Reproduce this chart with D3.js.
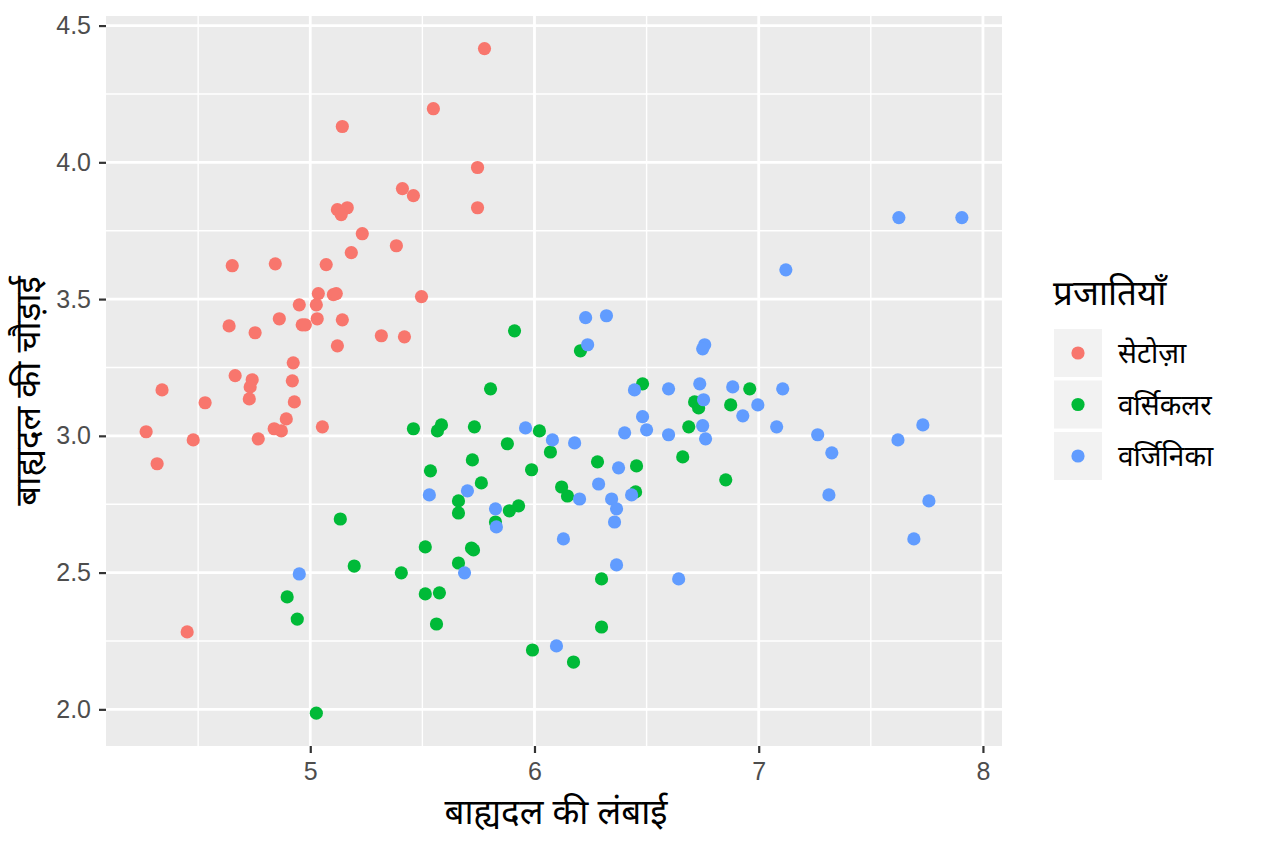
<!DOCTYPE html>
<html>
<head>
<meta charset="utf-8">
<script src="https://cdn.jsdelivr.net/npm/d3@7"></script>
<style>
  body { margin: 0; background: #fff; }
  svg { display: block; }
  text { font-family: "Noto Sans", "Noto Sans Devanagari", "Liberation Sans", sans-serif; }
  .tick-label { font-family: "Liberation Sans", Arial, sans-serif; }
</style>
</head>
<body>
<svg id="chart" width="1264" height="843"></svg>
<script>
// species labels, in legend order
const species = ["सेटोज़ा", "वर्सिकलर", "वर्जिनिका"];
const speciesColors = ["#F8766D", "#00BA38", "#619CFF"];

// jittered sepal length / width
const setosaLength = [5.777, 5.549, 5.143, 5.746, 5.746, 5.411, 5.460, 5.121, 5.165, 5.138,
  5.232, 5.384, 5.183, 4.652, 4.844, 5.071, 5.036, 5.103, 5.116, 5.496,
  4.951, 5.027, 4.862, 5.031, 5.143, 4.964, 4.978, 4.638, 4.754, 5.317,
  5.420, 5.121, 4.924, 4.665, 4.741, 4.732, 4.728, 4.920, 4.339, 4.929,
  4.531, 4.893, 4.839, 4.871, 5.054, 4.268, 4.478, 4.768, 4.317, 4.451];
const setosaWidth = [4.416, 4.196, 4.131, 3.981, 3.834, 3.904, 3.878, 3.827, 3.834, 3.809,
  3.739, 3.695, 3.670, 3.622, 3.629, 3.626, 3.520, 3.516, 3.520, 3.509,
  3.479, 3.479, 3.428, 3.428, 3.424, 3.406, 3.406, 3.402, 3.377, 3.366,
  3.362, 3.329, 3.267, 3.220, 3.205, 3.179, 3.135, 3.201, 3.168, 3.124,
  3.121, 3.062, 3.026, 3.018, 3.033, 3.015, 2.985, 2.989, 2.898, 2.283];

const versicolorLength = [5.911, 5.804, 5.460, 5.567, 5.585, 5.732, 5.879, 5.723, 5.536, 5.763,
  5.661, 5.661, 5.888, 5.929, 5.826, 5.134, 5.513, 5.719, 5.728, 5.661,
  5.196, 5.406, 4.897, 5.513, 5.576, 4.942, 5.563, 5.027, 6.205, 6.482,
  6.960, 6.714, 6.732, 6.875, 6.688, 6.022, 6.071, 6.281, 6.455, 6.661,
  5.987, 6.853, 6.121, 6.147, 6.451, 6.299, 6.299, 5.991, 6.174];
const versicolorWidth = [3.384, 3.172, 3.026, 3.018, 3.040, 3.033, 2.971, 2.912, 2.872, 2.828,
  2.762, 2.718, 2.726, 2.744, 2.685, 2.696, 2.594, 2.590, 2.583, 2.535,
  2.524, 2.499, 2.411, 2.422, 2.426, 2.330, 2.312, 1.986, 3.311, 3.190,
  3.172, 3.124, 3.102, 3.113, 3.033, 3.018, 2.941, 2.905, 2.890, 2.923,
  2.876, 2.839, 2.813, 2.780, 2.795, 2.477, 2.301, 2.217, 2.173];

const virginicaLength = [5.531, 5.701, 5.826, 5.830, 5.688, 4.951, 5.960, 6.228, 6.321, 6.237,
  6.759, 6.750, 6.446, 6.598, 6.737, 6.884, 7.107, 6.754, 6.996, 6.929,
  6.482, 6.500, 6.402, 6.598, 6.750, 6.763, 7.080, 6.080, 6.179, 6.375,
  6.286, 6.201, 6.344, 6.366, 6.433, 6.357, 6.129, 6.366, 6.643, 6.098,
  7.625, 7.906, 7.121, 7.263, 7.326, 7.621, 7.732, 7.313, 7.759, 7.692];
const virginicaWidth = [2.784, 2.799, 2.733, 2.667, 2.499, 2.495, 3.029, 3.432, 3.439, 3.333,
  3.333, 3.318, 3.168, 3.172, 3.190, 3.179, 3.172, 3.132, 3.113, 3.073,
  3.070, 3.022, 3.011, 3.004, 3.037, 2.989, 3.033, 2.985, 2.974, 2.883,
  2.824, 2.769, 2.769, 2.733, 2.784, 2.685, 2.623, 2.528, 2.477, 2.232,
  3.798, 3.798, 3.607, 3.004, 2.938, 2.985, 3.040, 2.784, 2.762, 2.623];

const xTicks = [5, 6, 7, 8];
const yTicks = [2.0, 2.5, 3.0, 3.5, 4.0, 4.5];
const xMinor = [4.5, 5.5, 6.5, 7.5];
const yMinor = [2.25, 2.75, 3.25, 3.75, 4.25];

const xTitle = "बाह्यदल की लंबाई";
const yTitle = "बाह्यदल की चौड़ाई";
const legendTitle = "प्रजातियाँ";

const lengths = [setosaLength, versicolorLength, virginicaLength];
const widths = [setosaWidth, versicolorWidth, virginicaWidth];
const points = [];
lengths.forEach((arr, s) => {
  arr.forEach((v, i) => points.push({ x: v, y: widths[s][i], s }));
});

const panel = { left: 106, top: 16, right: 1002, bottom: 746 };

const x = d3.scaleLinear().domain([4.089, 8.085]).range([panel.left, panel.right]);
const y = d3.scaleLinear().domain([1.866, 4.535]).range([panel.bottom, panel.top]);

const svg = d3.select("#chart");

svg.append("rect")
  .attr("x", panel.left)
  .attr("y", panel.top)
  .attr("width", panel.right - panel.left)
  .attr("height", panel.bottom - panel.top)
  .attr("fill", "#EBEBEB");

const grid = svg.append("g");
grid.selectAll("line.minor-x").data(xMinor).join("line")
  .attr("x1", (d) => x(d)).attr("x2", (d) => x(d))
  .attr("y1", panel.top).attr("y2", panel.bottom)
  .attr("stroke", "#fff").attr("stroke-width", 1.4);
grid.selectAll("line.minor-y").data(yMinor).join("line")
  .attr("y1", (d) => y(d)).attr("y2", (d) => y(d))
  .attr("x1", panel.left).attr("x2", panel.right)
  .attr("stroke", "#fff").attr("stroke-width", 1.4);
grid.selectAll("line.major-x").data(xTicks).join("line")
  .attr("x1", (d) => x(d)).attr("x2", (d) => x(d))
  .attr("y1", panel.top).attr("y2", panel.bottom)
  .attr("stroke", "#fff").attr("stroke-width", 2.8);
grid.selectAll("line.major-y").data(yTicks).join("line")
  .attr("y1", (d) => y(d)).attr("y2", (d) => y(d))
  .attr("x1", panel.left).attr("x2", panel.right)
  .attr("stroke", "#fff").attr("stroke-width", 2.8);

svg.append("g").selectAll("circle").data(points).join("circle")
  .attr("cx", (d) => x(d.x))
  .attr("cy", (d) => y(d.y))
  .attr("r", 6.6)
  .attr("fill", (d) => speciesColors[d.s]);

// axes
const xAxis = svg.append("g")
  .attr("transform", `translate(0,${panel.bottom})`)
  .call(d3.axisBottom(x).tickValues(xTicks).tickSize(7).tickPadding(9).tickFormat(d3.format("d")));
const yAxis = svg.append("g")
  .attr("transform", `translate(${panel.left},0)`)
  .call(d3.axisLeft(y).tickValues(yTicks).tickSize(7).tickPadding(8).tickFormat(d3.format(".1f")));
[xAxis, yAxis].forEach((g) => {
  g.select(".domain").remove();
  g.selectAll(".tick line").attr("stroke", "#333").attr("stroke-width", 2.2);
  g.selectAll(".tick text")
    .attr("class", "tick-label")
    .attr("fill", "#4D4D4D")
    .attr("font-size", 25);
});

svg.append("text")
  .attr("x", 556)
  .attr("y", 824)
  .attr("text-anchor", "middle")
  .attr("font-size", 35)
  .attr("fill", "#000")
  .text(xTitle);

svg.append("text")
  .attr("transform", "translate(40,391) rotate(-90)")
  .attr("text-anchor", "middle")
  .attr("font-size", 35)
  .attr("fill", "#000")
  .text(yTitle);

// legend
const legend = svg.append("g").attr("transform", "translate(1054,329)");
legend.append("text")
  .attr("x", -1)
  .attr("y", -24)
  .attr("font-size", 35)
  .text(legendTitle);
const key = legend.selectAll("g.key").data(species).join("g")
  .attr("class", "key")
  .attr("transform", (d, i) => `translate(0,${i * 51.5})`);
key.append("rect")
  .attr("width", 48).attr("height", 48)
  .attr("fill", "#F2F2F2");
key.append("circle")
  .attr("cx", 24).attr("cy", 24).attr("r", 6.6)
  .attr("fill", (d, i) => speciesColors[i]);
key.append("text")
  .attr("x", 64)
  .attr("y", 34)
  .attr("font-size", 28)
  .text((d) => d);
</script>
</body>
</html>
